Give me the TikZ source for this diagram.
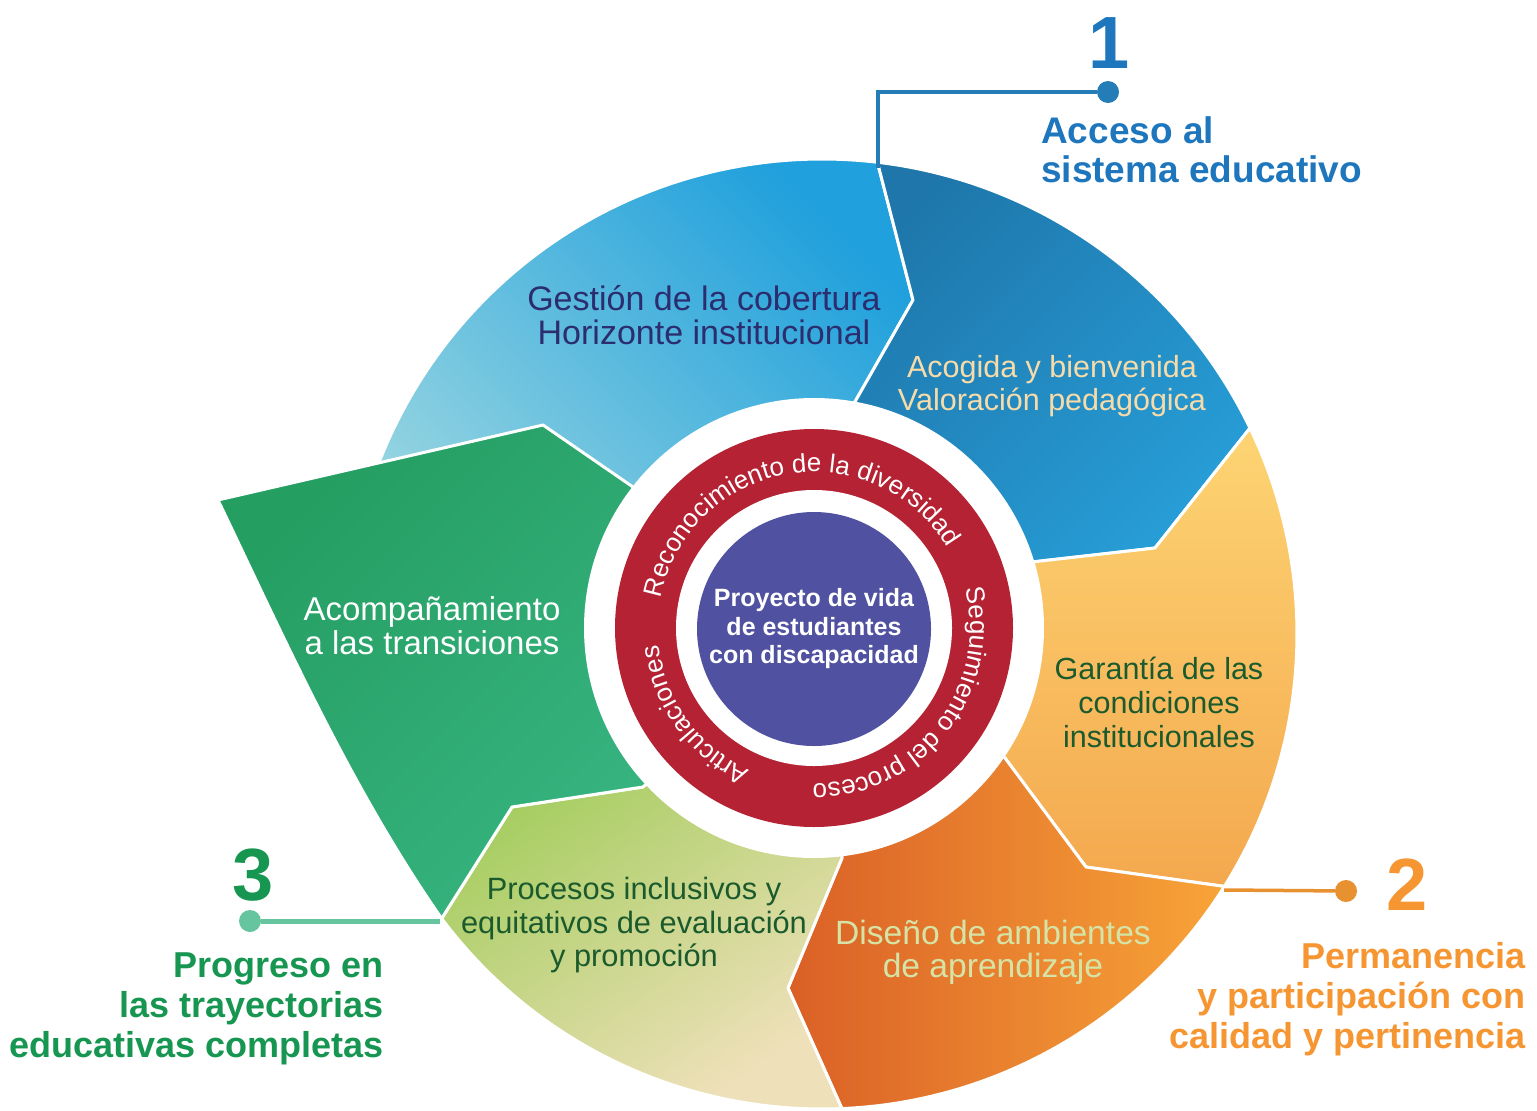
\documentclass[tikz,border=0pt]{standalone}
\usepackage{fontspec}
\setmainfont{Liberation Sans}
\usetikzlibrary{calc,decorations.text}
\definecolor{lbA}{RGB}{155,215,225}
\definecolor{lbB}{RGB}{32,160,220}
\definecolor{dbA}{RGB}{30,118,170}
\definecolor{dbB}{RGB}{40,160,218}
\definecolor{yA}{RGB}{253,212,115}
\definecolor{yB}{RGB}{244,168,78}
\definecolor{oA}{RGB}{218,96,38}
\definecolor{oB}{RGB}{248,164,56}
\definecolor{ygA}{RGB}{146,200,72}
\definecolor{ygB}{RGB}{238,224,185}
\definecolor{gA}{RGB}{37,158,98}
\definecolor{gB}{RGB}{58,184,134}
\definecolor{ringred}{RGB}{180,34,51}
\definecolor{corecol}{RGB}{80,81,160}
\definecolor{navy}{RGB}{43,45,110}
\definecolor{cream}{RGB}{247,220,170}
\definecolor{dkgreen}{RGB}{27,90,45}
\definecolor{palegreen}{RGB}{213,228,166}
\definecolor{blueT}{RGB}{30,118,189}
\definecolor{blueL}{RGB}{36,125,182}
\definecolor{orangeT}{RGB}{245,150,50}
\definecolor{orangeL}{RGB}{232,145,48}
\definecolor{greenT}{RGB}{22,150,80}
\definecolor{greenL}{RGB}{102,196,158}
\newcommand{\ringfont}{\fontsize{26}{26}\selectfont\color{white}}
\tikzset{
  segfill/.style={draw=white, line width=3pt, line join=round},
  lbl/.style={align=center, inner sep=0pt},
  ttl/.style={inner sep=0pt, font=\bfseries\fontsize{36}{40}\selectfont},
  bignum/.style={inner sep=0pt, font=\bfseries\fontsize{74}{74}\selectfont},
  calldot/.style={circle, inner sep=0pt, minimum size=22pt},
  ringtext/.style={decorate, decoration={text along path, text align=center, text={|\ringfont|#1}}}
}
\begin{document}
\begin{tikzpicture}[x=1pt,y=1pt]
\useasboundingbox (0,0) rectangle (1537,-1111);
\coordinate (O) at (822,-634);
\coordinate (I) at (814,-628);
\coordinate (Ai) at (852,-407); \coordinate (Ak) at (913,-300);
\coordinate (Bi) at (1032,-562); \coordinate (Bk) at (1155,-548);
\coordinate (Ci) at (1005,-758); \coordinate (Ck) at (1086,-867);
\coordinate (Di) at (842,-858); \coordinate (Dk) at (788,-988);
\coordinate (Ei) at (643,-787); \coordinate (Ek) at (512,-807);
\coordinate (Lo) at ($(O)+(175:475)$);
\coordinate (Ao) at ($(O)+(83.3:475)$);
\coordinate (Bo) at ($(O)+(25.7:475)$);
\coordinate (Co) at ($(O)+(-32.1:475)$);
\coordinate (Do) at ($(O)+(-87.6:475)$);
\coordinate (Eo) at ($(O)+(-143.2:475)$);
\coordinate (Gl) at (218,-500);
\coordinate (Gt) at (543,-425);
\coordinate (Gi) at (633,-487);

% segments
\draw[segfill, top color=lbB, bottom color=lbA, shading angle=-45]
  (I) -- (Lo) arc[start angle=175, end angle=83.3, radius=475] -- (Ak) -- (Ai) -- cycle;
\draw[segfill, top color=dbA, bottom color=dbB, shading angle=45]
  (Ai) -- (Ak) -- (Ao) arc[start angle=83.3, end angle=25.7, radius=475] -- (Bk) -- (Bi) -- (I) -- cycle;
\draw[segfill, top color=yA, bottom color=yB]
  (Bi) -- (Bk) -- (Bo) arc[start angle=25.7, end angle=-32.1, radius=475] -- (Ck) -- (Ci) -- (I) -- cycle;
\draw[segfill, top color=oA, bottom color=oB, shading angle=90]
  (Ci) -- (Ck) -- (Co) arc[start angle=-32.1, end angle=-87.6, radius=475] -- (Dk) -- (Di) -- (I) -- cycle;
\draw[segfill, top color=ygA, bottom color=ygB, shading angle=35]
  (Di) -- (Dk) -- (Do) arc[start angle=-87.6, end angle=-143.2, radius=475] -- (Ek) -- (Ei) -- (I) -- cycle;
\draw[segfill, top color=gA, bottom color=gB, shading angle=45]
  (Ei) -- (Ek) -- (Eo) .. controls (352,-790) and (285,-640) .. (Gl) -- (Gt) -- (Gi) -- (I) -- cycle;

% rings
\fill[white] (I) circle[radius=230];
\fill[ringred] (I) circle[radius=199];
\fill[white] (I) circle[radius=138];
\node[circle, fill=corecol, minimum size=234pt, inner sep=0pt, align=center, text=white,
      font=\bfseries\fontsize{25}{28.5}\selectfont] (core) at (814,-629)
      {Proyecto de vida\\de estudiantes\\con discapacidad};

\path[ringtext={Reconocimiento de la diversidad}] ($(I)+(180:156)$) arc[start angle=180, end angle=20, radius=156];
\path[ringtext={Seguimiento del proceso}] ($(I)+(32:156)$) arc[start angle=32, end angle=-108, radius=156];
\path[ringtext={Articulaciones}] ($(I)+(266:156)$) arc[start angle=266, end angle=166, radius=156];

% segment labels
\node[lbl, text=navy, font=\fontsize{34}{33.5}\selectfont] (gestion) at (704,-315)
  {Gestión de la cobertura\\Horizonte institucional};
\node[lbl, text=cream, font=\fontsize{30.5}{33}\selectfont] (acogida) at (1052,-386)
  {Acogida y bienvenida\\Valoración pedagógica};
\node[lbl, text=dkgreen, font=\fontsize{30.5}{34}\selectfont] (garantia) at (1159,-702)
  {Garantía de las\\condiciones\\institucionales};
\node[lbl, text=palegreen, font=\fontsize{33.6}{33}\selectfont] (diseno) at (993,-952)
  {Diseño de ambientes\\de aprendizaje};
\node[lbl, text=dkgreen, font=\fontsize{30.8}{33.5}\selectfont] (procesos) at (634,-925.5)
  {Procesos inclusivos y\\equitativos de evaluación\\y promoción};
\node[lbl, text=white, font=\fontsize{33}{34}\selectfont] (acomp) at (432,-626)
  {Acompañamiento\\a las transiciones};

% callout 1
\coordinate (s1) at (878,-168);
\node[calldot, fill=blueL] (d1) at (1108,-92) {};
\draw[blueL, line width=4.5pt] (s1) |- (d1);
\node[bignum, text=blueT] (n1) at (1109,-43) {1};
\node[ttl, text=blueT, anchor=west, align=left, font=\bfseries\fontsize{37}{39}\selectfont] (t1) at (1041,-150)
  {Acceso al\\sistema educativo};

% callout 2
\coordinate (s2) at (1224,-890);
\node[calldot, fill=orangeL] (d2) at (1346,-891) {};
\draw[orangeL, line width=3.5pt] (s2) -- (d2);
\node[bignum, text=orangeT] (n2) at (1407.5,-885) {2};
\node[ttl, text=orangeT, anchor=east, align=right] (t2) at (1526,-999)
  {Permanencia\\y participación con\\calidad y pertinencia};

% callout 3
\coordinate (s3) at (440,-921);
\node[calldot, fill=greenL] (d3) at (250,-921) {};
\draw[greenL, line width=5pt] (s3) -- (d3);
\node[bignum, text=greenT] (n3) at (253.5,-875.5) {3};
\node[ttl, text=greenT, anchor=east, align=right] (t3) at (384,-1009)
  {Progreso en\\las trayectorias\\educativas completas};
\end{tikzpicture}
\end{document}
